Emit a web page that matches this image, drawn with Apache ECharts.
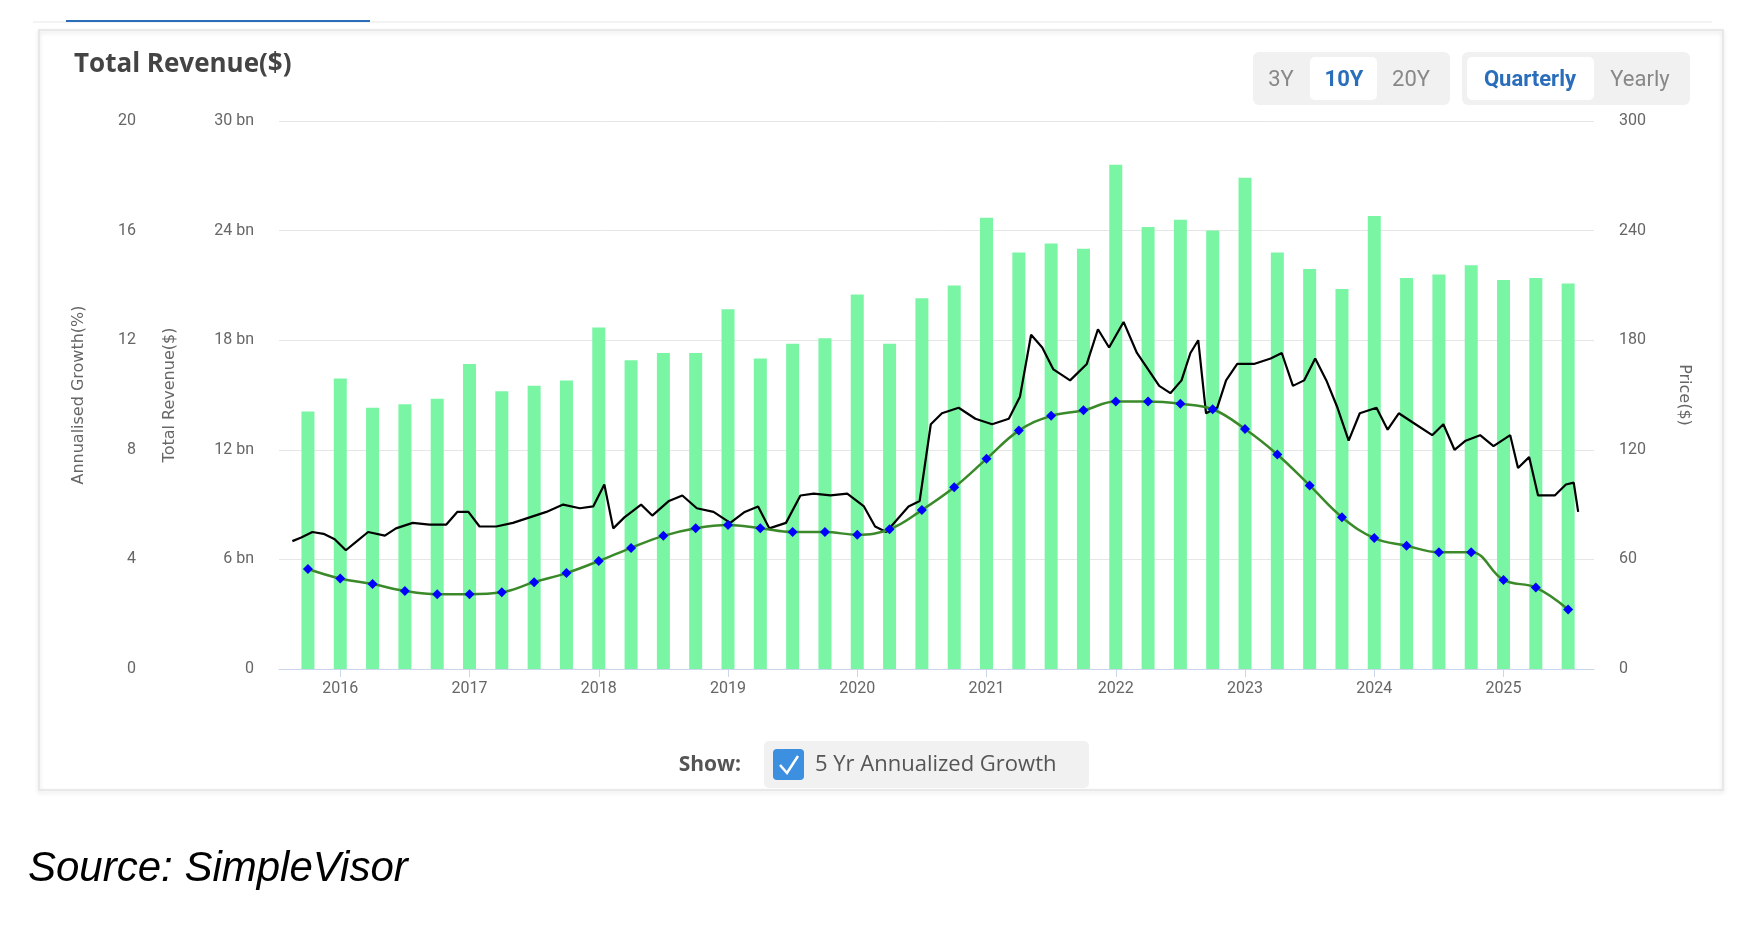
<!DOCTYPE html>
<html><head><meta charset="utf-8">
<script src="https://cdn.jsdelivr.net/npm/echarts@6/dist/echarts.min.js"></script>
<style>html,body{margin:0;padding:0;background:#fff}#c{width:1740px;height:934px}</style>
</head><body><div id="c"></div>
<script>
// Quarterly revenue (bn $), first quarter = 2015 Q4 (decimal year 2015.75)
const revenue = [14.1,15.9,14.3,14.5,14.8,16.7,15.2,15.5,15.8,18.7,16.9,17.3,17.3,19.7,17.0,17.8,18.1,20.5,17.8,20.3,21.0,24.7,22.8,23.3,23.0,27.6,24.2,24.6,24.0,26.9,22.8,21.9,20.8,24.8,21.4,21.6,22.1,21.3,21.4,21.1];
// 5 Yr annualized growth (%)
const growth = [3.65,3.3,3.1,2.85,2.73,2.73,2.8,3.17,3.5,3.94,4.42,4.86,5.14,5.26,5.14,5.0,5.0,4.9,5.1,5.8,6.63,7.67,8.7,9.24,9.44,9.76,9.76,9.68,9.48,8.76,7.83,6.7,5.54,4.78,4.5,4.26,4.26,3.25,2.97,2.17];
const firstQuarter = 2015.75;
// price sample positions and values ($)
const priceX = [262,270,280,290,300,310,320,330,345,355,370,385,400,410,420,430,445,460,475,490,505,520,532,542,550,560,575,585,600,612,625,640,655,668,680,690,705,718,730,745,760,775,785,795,805,815,825,835,845,860,875,890,905,915,925,935,945,960,975,985,995,1008,1020,1030,1040,1050,1060,1068,1075,1082,1092,1100,1110,1125,1140,1150,1160,1170,1180,1190,1200,1210,1220,1235,1245,1255,1270,1285,1295,1305,1315,1328,1340,1355,1362,1372,1380,1395,1405,1412,1416];
const price = [70,72,75,74,71,65,70,75,73,77,80,79,79,86,86,78,78,80,83,86,90,88,89,101,77,83,90,84,92,95,88,86,80,86,89,77,80,95,96,95,96,89,78,75,82,89,92,134,140,143,137,134,137,149,183,176,164,158,167,186,176,190,173,164,155,151,158,173,180,140,143,158,167,167,170,173,155,158,170,158,143,125,140,143,131,140,134,128,134,120,125,128,122,128,110,116,95,95,101,102,86];
const yearTicks = [2016,2017,2018,2019,2020,2021,2022,2023,2024,2025];

const priceYears = priceX.map(x => 2016 + (x-305)/116);
const barData = revenue.map((v,i)=>[firstQuarter+0.25*i, v]);
const growthData = growth.map((v,i)=>[firstQuarter+0.25*i, v]);
const priceData = price.map((v,i)=>[priceYears[i], v]);

const chart = echarts.init(document.getElementById('c'));
const lbl = {color:'#666', fontSize:16, fontFamily:'Roboto'};
chart.setOption({
  animation:false,
  grid:{left:279, right:146, top:121, bottom:265},
  graphic:[
    {type:'line', shape:{x1:33,y1:22,x2:1712,y2:22}, style:{stroke:'#e6e6e6',lineWidth:1}},
    {type:'line', shape:{x1:66,y1:21,x2:370,y2:21}, style:{stroke:'#2a6ebb',lineWidth:2}},
    {type:'rect', shape:{x:39,y:30,width:1684,height:760}, style:{fill:'none',stroke:'#e3e3e3',lineWidth:1.5, shadowBlur:4, shadowColor:'rgba(0,0,0,0.15)', shadowOffsetY:2}},
    {type:'text', left:74, top:52, style:{text:'Total Revenue($)', font:'bold 26px "Open Sans"', fill:'#444'}},
    {type:'rect', shape:{x:1253,y:52,width:197,height:53,r:6}, style:{fill:'#f1f1f1'}},
    {type:'rect', shape:{x:1310,y:57,width:67,height:43,r:5}, style:{fill:'#fff'}},
    {type:'text', x:1281, y:80, style:{text:'3Y', font:'22px "Liberation Sans Narrow", "Roboto"', fill:'#888', align:'center', verticalAlign:'middle'}},
    {type:'text', x:1344, y:80, style:{text:'10Y', font:'bold 22px "Liberation Sans Narrow", "Roboto"', fill:'#2a6ebb', align:'center', verticalAlign:'middle'}},
    {type:'text', x:1411, y:80, style:{text:'20Y', font:'22px "Liberation Sans Narrow", "Roboto"', fill:'#888', align:'center', verticalAlign:'middle'}},
    {type:'rect', shape:{x:1462,y:52,width:228,height:53,r:6}, style:{fill:'#f1f1f1'}},
    {type:'rect', shape:{x:1467,y:57,width:127,height:43,r:5}, style:{fill:'#fff'}},
    {type:'text', x:1530, y:80, style:{text:'Quarterly', font:'bold 22px "Liberation Sans Narrow", "Roboto"', fill:'#2a6ebb', align:'center', verticalAlign:'middle'}},
    {type:'text', x:1640, y:80, style:{text:'Yearly', font:'22px "Liberation Sans Narrow", "Roboto"', fill:'#888', align:'center', verticalAlign:'middle'}},
    {type:'text', x:741, y:765, style:{text:'Show:', font:'bold 21px "Open Sans"', fill:'#555', align:'right', verticalAlign:'middle'}},
    {type:'rect', shape:{x:764,y:741,width:325,height:47,r:5}, style:{fill:'#f1f1f1'}},
    {type:'rect', shape:{x:773,y:749,width:31,height:31,r:4}, style:{fill:'#3d8fe0'}},
    {type:'polyline', shape:{points:[[780,765],[787,773],[798,756]]}, style:{stroke:'#fff',lineWidth:2.5,fill:'none'}},
    {type:'text', x:815, y:765, style:{text:'5 Yr Annualized Growth', font:'22px "Open Sans"', fill:'#555', verticalAlign:'middle'}},
    {type:'text', left:28, top:848, style:{text:'Source: SimpleVisor', font:'italic 42px "Liberation Sans"', fill:'#000'}}
  ],
  xAxis:{type:'value', min:2015.526, max:2025.70,
    axisLine:{lineStyle:{color:'#ccd6eb'}},
    axisTick:{show:true, customValues:yearTicks, lineStyle:{color:'#ccd6eb'}, length:8},
    axisLabel:Object.assign({customValues:yearTicks, margin:12, formatter:v=>String(Math.round(v))}, lbl),
    splitLine:{show:false}},
  yAxis:[
    {type:'value', position:'left', min:0, max:30, interval:6,
     name:'Total Revenue($)', nameLocation:'middle', nameGap:101, nameTextStyle:{color:'#666',fontSize:16,fontFamily:'DejaVu Sans'},
     axisLabel:Object.assign({margin:25, formatter:v=>v===0?'0':v+' bn'}, lbl),
     axisLine:{show:false}, axisTick:{show:false}, splitLine:{lineStyle:{color:'#e6e6e6'}}},
    {type:'value', position:'left', offset:118, min:0, max:20, interval:4,
     name:'Annualised Growth(%)', nameLocation:'middle', nameGap:74, nameTextStyle:{color:'#666',fontSize:16,fontFamily:'DejaVu Sans'},
     axisLabel:Object.assign({margin:25}, lbl), axisLine:{show:false}, axisTick:{show:false}, splitLine:{show:false}},
    {type:'value', position:'right', min:0, max:300, interval:60,
     name:'Price($)', nameLocation:'middle', nameGap:82, nameRotate:-90, nameTextStyle:{color:'#666',fontSize:16,fontFamily:'DejaVu Sans'},
     axisLabel:Object.assign({margin:25}, lbl), axisLine:{show:false}, axisTick:{show:false}, splitLine:{show:false}}
  ],
  series:[
    {type:'bar', yAxisIndex:0, data:barData, barWidth:13, itemStyle:{color:'#7af5a4'}},
    {type:'line', yAxisIndex:2, data:priceData, showSymbol:false, lineStyle:{color:'#000',width:2.2}, z:3},
    {type:'line', yAxisIndex:1, data:growthData, smooth:0.4, symbol:'diamond', symbolSize:10,
     itemStyle:{color:'#0000ff'}, lineStyle:{color:'#3a8a2a',width:2.5}, z:4}
  ]
});
</script></body></html>
